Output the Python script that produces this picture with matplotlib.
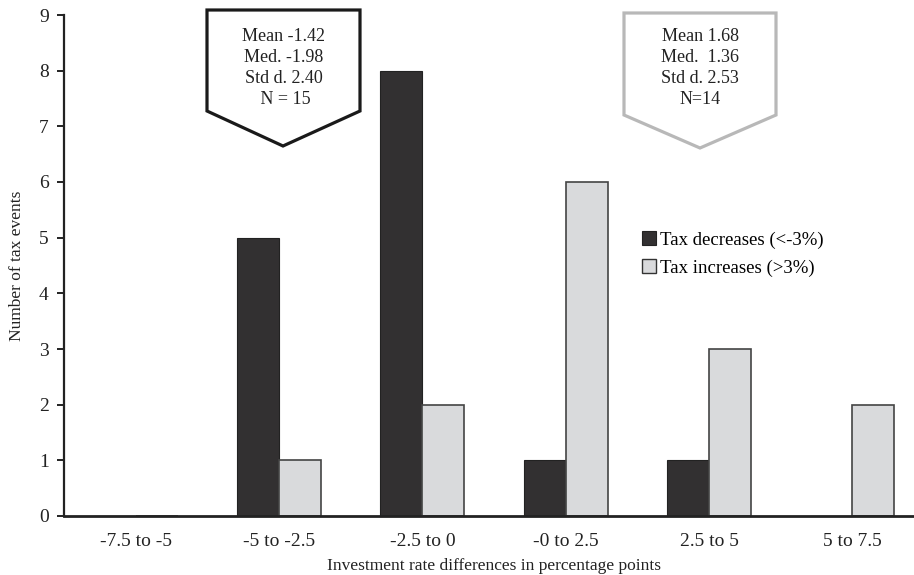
import matplotlib as mpl

mpl.use("Agg")

import matplotlib.pyplot as plt
import numpy as np
from matplotlib.patches import Patch, Polygon

categories = ["-7.5 to -5", "-5 to -2.5", "-2.5 to 0", "-0 to 2.5", "2.5 to 5", "5 to 7.5"]
tax_decreases = [0, 5, 8, 1, 1, 0]
tax_increases = [0, 1, 2, 6, 3, 2]
y_ticks = list(range(10))

stats_decreases = "Mean -1.42\nMed. -1.98\nStd d. 2.40\n N = 15"
stats_increases = "Mean 1.68\nMed.  1.36\nStd d. 2.53\nN=14"

DARK = "#323031"
LIGHT = "#d9dadc"
W, H = 914, 575

plt.rcParams["font.family"] = ["Liberation Serif", "DejaVu Serif"]


def px(x, y):
    # pixel position -> figure fraction
    return (x / W, 1 - y / H)


def callout(fig, left, right, top, side, tip_x, tip_y, ec, text):
    pts = [px(left, top), px(right, top), px(right, side), px(tip_x, tip_y), px(left, side)]
    fig.patches.append(
        Polygon(pts, closed=True, transform=fig.transFigure, fc="white", ec=ec, lw=2.3, joinstyle="miter", zorder=5)
    )
    cx, cy = px((left + right) / 2, 68)
    fig.text(cx, cy, text, ha="center", va="center", fontsize=13, linespacing=1.33, color="#222222", zorder=6)


fig = plt.figure(figsize=(W / 100, H / 100), dpi=100)
ax = fig.add_axes([64 / W, 59 / H, 860 / W, 501 / H])

x = np.arange(len(categories))
bw = 0.293
ax.bar(x - bw / 2, tax_decreases, bw, color=DARK, ec="#222222", lw=0.8, label="Tax decreases (<-3%)")
ax.bar(x + bw / 2, tax_increases, bw, color=LIGHT, ec="#444444", lw=1.2, label="Tax increases (>3%)")

ax.set_xlim(-0.5, len(categories) - 0.5)
ax.set_ylim(0, 9)
ax.set_yticks(y_ticks)
ax.set_xticks(x)
ax.set_xticklabels(categories)
ax.tick_params(axis="x", length=0, pad=12, labelsize=14, colors="#222222")
ax.tick_params(axis="y", length=5, width=1.4, labelsize=14, colors="#222222", pad=6)
for s in ["top", "right"]:
    ax.spines[s].set_visible(False)
ax.spines["left"].set_linewidth(1.6)
ax.spines["bottom"].set_linewidth(2.0)
ax.spines["left"].set_color("#222222")
ax.spines["bottom"].set_color("#222222")

ax.set_xlabel("Investment rate differences in percentage points", fontsize=12.5, labelpad=6, color="#222222")
ax.set_ylabel("Number of tax events", fontsize=12.5, labelpad=10, color="#222222")

handles = [
    Patch(fc=DARK, ec="#222222", lw=0.8, label="Tax decreases (<-3%)"),
    Patch(fc=LIGHT, ec="#333333", lw=1.0, label="Tax increases (>3%)"),
]
fig.legend(
    handles=handles,
    loc="upper left",
    bbox_to_anchor=px(633, 222),
    frameon=False,
    fontsize=13.5,
    handlelength=0.75,
    handleheight=0.75,
    handletextpad=0.2,
    labelspacing=0.55,
    borderpad=0,
)

callout(fig, 207, 360, 10, 111, 283, 146, "#1a1a1a", stats_decreases)
callout(fig, 624, 776, 13, 115, 700, 148, "#b8b8b8", stats_increases)

fig.savefig("out.png", dpi=100)
